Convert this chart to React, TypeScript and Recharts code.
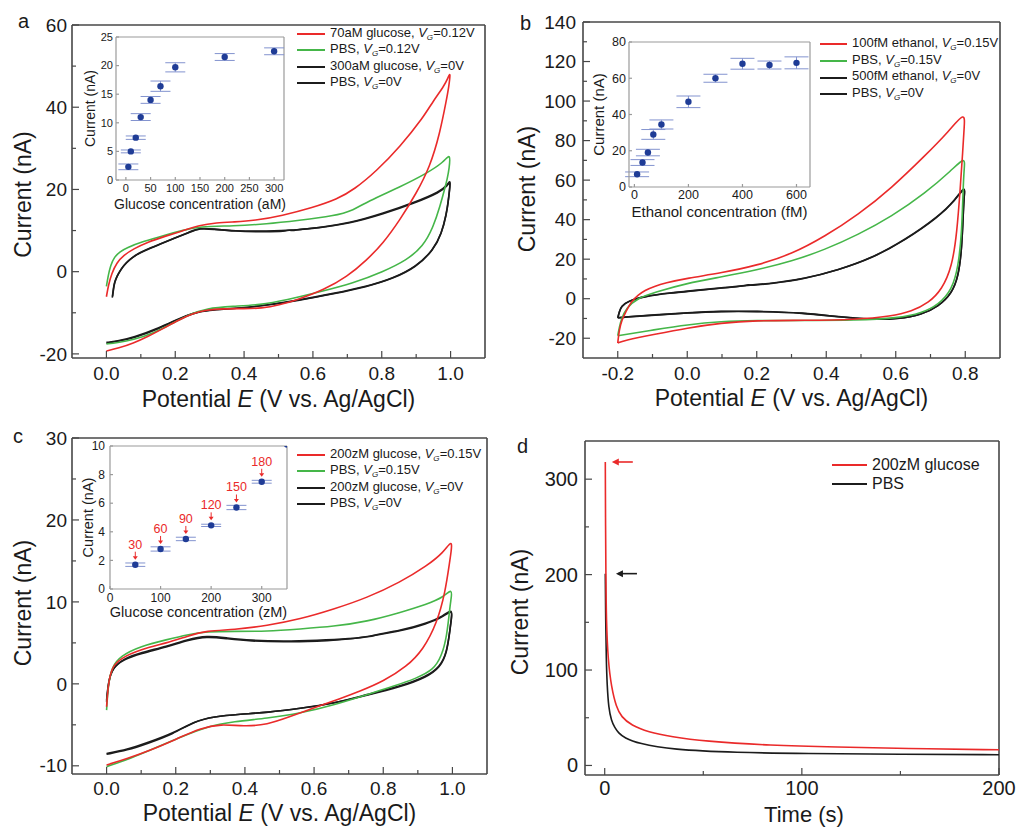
import React from 'react';
import {
  ComposedChart, ScatterChart, Line, Scatter, XAxis, YAxis,
  ReferenceLine, Legend, ErrorBar,
} from 'recharts';

const FONT = 'Arial, "Liberation Sans", Helvetica, sans-serif';
const RED = '#ea2a2a';
const GREEN = '#45b649';
const BLACK = '#1c1c1c';
const AXIS = '#474747';
const TXT = '#1a1a1a';
const DOT = '#1f3c96';
const ERR = '#8393cf';
const INSET_AXIS = '#9a9a9a';

type P = [number, number];

// ---------- Panel a : CV, glucose (aM) ----------
const aRed: P[] = [[0.0,-6.1],[0.006,-3.2],[0.015,-0.5],[0.03,2.2],[0.05,4.0],[0.08,5.6],[0.12,7.2],[0.17,8.6],[0.22,9.9],[0.27,11.3],[0.32,11.9],[0.37,12.1],[0.43,12.4],[0.51,13.6],[0.6,15.6],[0.67,17.6],[0.72,20.0],[0.785,24.5],[0.853,30.4],[0.92,37.4],[0.95,41.6],[0.98,45.0],[0.993,47.2],[1.0,48.7],[0.995,45.0],[0.988,41.8],[0.969,33.7],[0.94,25.5],[0.9,19.0],[0.853,12.6],[0.804,6.9],[0.756,2.8],[0.7,-1.2],[0.63,-4.5],[0.562,-6.6],[0.5,-8.2],[0.45,-8.9],[0.4,-9.0],[0.34,-9.0],[0.29,-9.3],[0.25,-10.2],[0.21,-11.8],[0.17,-13.6],[0.12,-15.8],[0.078,-17.4],[0.035,-18.6],[0.0,-19.3]];
const aGreen: P[] = [[0.0,-3.6],[0.005,-1.0],[0.012,1.5],[0.023,3.6],[0.04,4.9],[0.058,5.8],[0.105,7.3],[0.17,8.9],[0.22,10.0],[0.27,11.0],[0.37,11.1],[0.465,11.6],[0.56,12.5],[0.66,13.5],[0.72,15.0],[0.756,17.0],[0.853,20.6],[0.93,23.9],[0.98,26.6],[1.0,29.0],[0.996,25.0],[0.99,22.5],[0.984,20.5],[0.969,15.8],[0.95,10.9],[0.92,6.1],[0.872,2.8],[0.804,0.0],[0.717,-2.8],[0.62,-4.9],[0.523,-6.9],[0.446,-8.1],[0.368,-8.4],[0.29,-8.9],[0.242,-10.4],[0.194,-12.5],[0.136,-15.0],[0.078,-16.6],[0.03,-17.3],[0.0,-17.6]];
const aBlack1: P[] = [[0.017,-6.3],[0.02,-4.2],[0.023,-2.7],[0.03,-1.2],[0.038,0.0],[0.05,1.5],[0.067,2.9],[0.085,4.0],[0.105,4.9],[0.154,6.6],[0.2,8.2],[0.24,9.6],[0.271,10.7],[0.31,10.4],[0.37,9.8],[0.465,9.7],[0.52,9.8],[0.53,10.2],[0.545,9.9],[0.56,10.3],[0.61,10.6],[0.707,11.8],[0.804,14.2],[0.9,17.0],[0.969,19.5],[0.99,21.0],[1.0,22.5],[0.997,20.0],[0.993,17.0],[0.988,14.2],[0.974,9.3],[0.95,5.3],[0.9,1.2],[0.833,-1.6],[0.756,-3.6],[0.66,-5.3],[0.56,-6.9],[0.465,-8.1],[0.388,-8.9],[0.29,-9.4],[0.25,-10.2],[0.213,-11.4],[0.155,-13.8],[0.078,-16.2],[0.03,-17.0],[0.0,-17.4]];
const aBlack2: P[] = [[0.018,-6.0],[0.021,-4.0],[0.024,-2.6],[0.031,-1.1],[0.039,0.1],[0.051,1.6],[0.068,3.0],[0.086,4.1],[0.106,5.0],[0.155,6.7],[0.2,8.2],[0.24,9.5],[0.272,10.6],[0.31,10.3],[0.37,9.9],[0.465,9.8],[0.56,10.2],[0.61,10.6],[0.707,11.7],[0.804,14.0],[0.9,16.8],[0.969,19.3],[0.99,20.8],[1.0,22.2],[0.997,19.8],[0.993,16.8],[0.988,14.0],[0.974,9.2],[0.95,5.2],[0.9,1.1],[0.833,-1.7],[0.756,-3.7],[0.66,-5.4],[0.56,-7.0],[0.465,-8.2],[0.388,-8.9],[0.29,-9.3],[0.25,-10.1],[0.213,-11.3],[0.155,-13.6],[0.078,-16.0],[0.03,-16.9],[0.0,-17.2]];
const legendA = [
  { text: '70aM glucose', vg: '0.12V' },
  { text: 'PBS', vg: '0.12V' },
  { text: '300aM glucose', vg: '0V' },
  { text: 'PBS', vg: '0V' },
];
const insetAConc = [5, 10, 20, 30, 50, 70, 100, 200, 300];
const insetACurrent = [2.3, 5.0, 7.4, 11.0, 14.0, 16.4, 19.7, 21.5, 22.5];
const insetAErr = [0.5, 0.25, 0.3, 0.6, 0.6, 0.9, 0.8, 0.6, 0.6];

// ---------- Panel b : CV, ethanol (fM) ----------
const bRed: P[] = [[-0.2,-22.4],[-0.196,-16.0],[-0.188,-10.5],[-0.176,-6.5],[-0.162,-1.5],[-0.14,2.0],[-0.123,4.2],[-0.094,6.3],[-0.065,7.9],[0.0,10.4],[0.098,13.0],[0.204,17.0],[0.3,22.5],[0.396,31.5],[0.492,42.5],[0.588,56.0],[0.685,72.5],[0.752,84.5],[0.8,95.0],[0.797,87.0],[0.793,75.0],[0.786,56.8],[0.776,33.2],[0.762,16.3],[0.733,4.6],[0.694,-2.2],[0.646,-6.4],[0.588,-8.9],[0.483,-10.6],[0.338,-11.0],[0.194,-11.0],[0.098,-12.3],[0.0,-14.8],[-0.094,-18.0],[-0.18,-21.0],[-0.2,-22.4]];
const bGreen: P[] = [[-0.2,-18.7],[-0.195,-14.0],[-0.19,-10.6],[-0.176,-4.7],[-0.142,0.3],[-0.094,3.2],[0.0,7.9],[0.098,11.0],[0.204,14.7],[0.3,18.9],[0.396,24.8],[0.492,32.4],[0.588,41.6],[0.685,53.4],[0.762,65.2],[0.8,72.0],[0.797,66.0],[0.794,56.8],[0.79,33.2],[0.78,16.3],[0.762,4.6],[0.723,-3.0],[0.675,-7.2],[0.608,-9.8],[0.483,-11.0],[0.338,-11.0],[0.194,-11.0],[0.098,-11.5],[0.0,-13.1],[-0.094,-15.7],[-0.2,-18.7]];
const bBlack1: P[] = [[-0.2,-9.8],[-0.195,-6.5],[-0.19,-3.9],[-0.171,-1.3],[-0.123,1.2],[-0.046,2.9],[0.0,3.7],[0.098,5.4],[0.17,6.5],[0.175,7.3],[0.18,6.6],[0.242,7.6],[0.338,10.0],[0.435,14.5],[0.531,20.5],[0.627,29.8],[0.723,41.6],[0.771,50.0],[0.8,57.6],[0.797,52.0],[0.795,46.7],[0.79,24.8],[0.78,11.3],[0.762,2.9],[0.723,-3.9],[0.675,-8.1],[0.608,-10.3],[0.531,-10.6],[0.435,-9.3],[0.338,-7.2],[0.194,-6.4],[0.098,-6.4],[0.0,-7.2],[-0.094,-8.3],[-0.18,-9.3],[-0.2,-9.8]];
const bBlack2: P[] = [[-0.2,-9.6],[-0.195,-6.3],[-0.19,-3.8],[-0.171,-1.2],[-0.123,1.3],[-0.046,3.0],[0.0,3.8],[0.098,5.5],[0.242,7.7],[0.338,10.1],[0.435,14.6],[0.531,20.4],[0.627,29.6],[0.723,41.3],[0.771,49.7],[0.8,57.2],[0.797,51.8],[0.795,46.5],[0.79,24.6],[0.78,11.2],[0.762,2.8],[0.723,-3.9],[0.675,-8.0],[0.608,-10.2],[0.531,-10.5],[0.435,-9.2],[0.338,-7.1],[0.194,-6.3],[0.098,-6.3],[0.0,-7.1],[-0.094,-8.2],[-0.18,-9.2],[-0.2,-9.6]];
const legendB = [
  { text: '100fM ethanol', vg: '0.15V' },
  { text: 'PBS', vg: '0.15V' },
  { text: '500fM ethanol', vg: '0V' },
  { text: 'PBS', vg: '0V' },
];
const insetBConc = [10, 30, 50, 70, 100, 200, 300, 400, 500, 600];
const insetBCurrent = [7, 13.5, 19, 29, 34.5, 47, 60, 68, 67.3, 68.5];
const insetBErr = [1.3, 1.6, 1.8, 2.7, 2.5, 3.2, 2.2, 3.0, 2.2, 3.3];

// ---------- Panel c : CV, glucose (zM) ----------
const cRed: P[] = [[0.0,-2.8],[0.005,0.1],[0.016,2.1],[0.04,3.1],[0.098,4.2],[0.175,5.0],[0.233,5.8],[0.29,6.5],[0.368,6.6],[0.464,7.1],[0.56,7.9],[0.656,9.1],[0.753,10.5],[0.849,12.4],[0.926,14.4],[0.974,16.0],[1.0,17.7],[0.996,16.0],[0.993,15.2],[0.979,11.1],[0.955,7.4],[0.916,4.2],[0.868,2.1],[0.8,0.3],[0.733,-0.9],[0.676,-1.8],[0.608,-2.8],[0.531,-4.0],[0.464,-5.0],[0.397,-5.2],[0.33,-4.9],[0.271,-5.4],[0.204,-6.7],[0.127,-8.1],[0.06,-9.1],[0.0,-9.9]];
const cGreen: P[] = [[0.0,-3.2],[0.005,0.1],[0.016,2.1],[0.04,3.4],[0.098,4.6],[0.175,5.4],[0.233,6.0],[0.29,6.4],[0.368,6.4],[0.464,6.4],[0.56,6.7],[0.656,7.0],[0.753,7.6],[0.849,8.7],[0.926,9.7],[0.975,10.6],[1.0,11.7],[0.996,10.3],[0.993,9.5],[0.984,5.8],[0.969,3.4],[0.945,1.7],[0.897,0.7],[0.83,-0.3],[0.753,-1.3],[0.656,-2.6],[0.56,-3.6],[0.464,-4.2],[0.368,-4.6],[0.29,-5.2],[0.214,-6.5],[0.137,-7.9],[0.069,-9.1],[0.0,-10.1]];
const cBlack1: P[] = [[0.0,-2.2],[0.005,0.1],[0.016,1.9],[0.05,3.1],[0.098,3.8],[0.175,4.6],[0.233,5.4],[0.29,5.9],[0.348,5.6],[0.416,5.3],[0.512,5.2],[0.608,5.3],[0.705,5.5],[0.77,5.8],[0.775,6.0],[0.849,6.5],[0.926,7.4],[0.975,8.3],[1.0,9.2],[0.997,8.0],[0.994,7.0],[0.984,3.8],[0.964,2.1],[0.926,0.9],[0.849,-0.3],[0.753,-1.3],[0.656,-2.4],[0.56,-3.0],[0.464,-3.5],[0.387,-3.7],[0.31,-4.0],[0.252,-4.6],[0.194,-6.1],[0.117,-7.3],[0.06,-8.1],[0.0,-8.6]];
const cBlack2: P[] = [[0.0,-2.0],[0.005,0.2],[0.016,1.9],[0.05,3.0],[0.098,3.7],[0.175,4.5],[0.233,5.3],[0.29,5.8],[0.348,5.5],[0.416,5.2],[0.512,5.1],[0.608,5.2],[0.705,5.4],[0.849,6.4],[0.926,7.3],[0.975,8.2],[1.0,9.1],[0.997,7.9],[0.994,6.9],[0.984,3.7],[0.964,2.0],[0.926,0.8],[0.849,-0.4],[0.753,-1.4],[0.656,-2.4],[0.56,-3.0],[0.464,-3.5],[0.387,-3.7],[0.31,-4.0],[0.252,-4.6],[0.194,-6.0],[0.117,-7.2],[0.06,-8.0],[0.0,-8.5]];
const legendC = [
  { text: '200zM glucose', vg: '0.15V' },
  { text: 'PBS', vg: '0.15V' },
  { text: '200zM glucose', vg: '0V' },
  { text: 'PBS', vg: '0V' },
];
const insetCConc = [50, 100, 150, 200, 250, 300];
const insetCCurrent = [1.7, 2.8, 3.5, 4.45, 5.7, 7.5];
const insetCErr = [0.12, 0.15, 0.12, 0.08, 0.15, 0.1];
const insetCLabels = ['30', '60', '90', '120', '150', '180'];
const insetCEdgeConc = [350];
const insetCEdgeCurrent = [10.1];

// ---------- Panel d : amperometric response ----------
const dRed: P[] = [[0.3,318],[0.4,260],[0.6,200],[0.8,152],[1.7,110],[3.4,82],[5.9,61],[8.4,51],[13.5,42],[22,35],[34,30],[50,25.5],[84,21],[118,19.2],[152,17.8],[200,16.4]];
const dBlack: P[] = [[0.3,201],[0.5,150],[0.8,110],[1.2,85],[2,60],[3.4,47],[5,40],[7,34],[10,29],[17,23],[34,16.5],[67,13.5],[101,12.5],[150,11.8],[200,11.2]];
const legendD = ['200zM glucose', 'PBS'];
const arrowDTime = [3.6, 5.7];
const arrowDCurrent = [318, 201];

// ---------- helpers ----------
const toPts = (arr: P[]) => arr.map(([x, y]) => ({ x, y }));

const tickFactory = (
  side: 'bottom' | 'left', majors: number[], gap: number, fs: number,
  fmt: (v: number) => string, majorLen: number, minorLen: number, stroke: string, fill: string,
) => (props: any) => {
  const { x, y, payload } = props;
  const v = Number(payload && payload.value);
  const isMajor = majors.some((t) => Math.abs(t - v) < 1e-6);
  const len = isMajor ? majorLen : minorLen;
  if (side === 'bottom') {
    const ay = y - gap;
    return (
      <g>
        <line x1={x} x2={x} y1={ay} y2={ay - len} stroke={stroke} strokeWidth={1.2} />
        {isMajor ? (
          <text x={x} y={y} dy="0.71em" textAnchor="middle" fontSize={fs} fontFamily={FONT} fill={fill}>{fmt(v)}</text>
        ) : null}
      </g>
    );
  }
  const ax = x + gap;
  return (
    <g>
      <line x1={ax} x2={ax + len} y1={y} y2={y} stroke={stroke} strokeWidth={1.2} />
      {isMajor ? (
        <text x={x} y={y} dy="0.35em" textAnchor="end" fontSize={fs} fontFamily={FONT} fill={fill}>{fmt(v)}</text>
      ) : null}
    </g>
  );
};

const xTitle = (dx: number, dy: number, fs: number, content: React.ReactNode) => (p: any) => {
  const vb = p.viewBox || { x: 0, y: 0, width: 0, height: 0 };
  return (
    <text x={vb.x + vb.width / 2 + dx} y={vb.y + dy} textAnchor="middle" fontSize={fs}
      fontFamily={FONT} fill={TXT} style={{ whiteSpace: 'pre' }}>{content}</text>
  );
};

const yTitle = (bx: number, dy: number, fs: number, content: React.ReactNode) => (p: any) => {
  const vb = p.viewBox || { x: 0, y: 0, width: 0, height: 0 };
  const x = vb.x + bx;
  const y = vb.y + vb.height / 2 + dy;
  return (
    <text x={x} y={y} transform={`rotate(-90 ${x} ${y})`} textAnchor="middle" fontSize={fs}
      fontFamily={FONT} fill={TXT} style={{ whiteSpace: 'pre' }}>{content}</text>
  );
};

const potentialTitle = (
  <>
    <tspan>Potential </tspan>
    <tspan fontStyle="italic">E</tspan>
    <tspan> (V vs. Ag/AgCl)</tspan>
  </>
);

type LegItem = { text: string; vg?: string; color: string };

const LegendBlock = ({ items, fs, rowH, lineW }: { items: LegItem[]; fs: number; rowH: number; lineW: number }) => (
  <div style={{ fontFamily: FONT, fontSize: fs, color: TXT, whiteSpace: 'nowrap' }}>
    {items.map((it, i) => (
      <div key={i} style={{ display: 'flex', alignItems: 'center', height: rowH }}>
        <div style={{ width: lineW, height: 0, borderTop: `2px solid ${it.color}`, marginRight: 5 }} />
        <span style={{ lineHeight: `${rowH}px` }}>
          {it.text}
          {it.vg ? (
            <>
              {', '}
              <i>V</i>
              <i style={{ fontSize: fs * 0.62, position: 'relative', top: 3 }}>G</i>
              {'=' + it.vg}
            </>
          ) : null}
        </span>
      </div>
    ))}
  </div>
);

type Series = { data: P[]; color: string; name: string };

type MainProps = {
  width: number; height: number; margin: { top: number; right: number; left: number; bottom: number };
  xDomain: [number, number]; yDomain: [number, number];
  xTicks: number[]; xMajors: number[]; yTicks: number[]; yMajors: number[];
  xFmt: (v: number) => string; yFmt: (v: number) => string;
  yAxisWidth: number; xAxisHeight: number; tickFs: number; xGap: number; yGap: number;
  series: Series[];
  xLabel: (p: any) => React.ReactElement; yLabel: (p: any) => React.ReactElement;
  legendItems: LegItem[]; legendPos: { left: number; top: number }; legendFs: number; legendRowH: number; legendLineW: number;
  extra?: React.ReactElement | null;
};

const MainChart = (p: MainProps) => (
  <ComposedChart width={p.width} height={p.height} margin={p.margin}>
    <XAxis type="number" dataKey="x" domain={p.xDomain} allowDataOverflow ticks={p.xTicks} interval={0}
      height={p.xAxisHeight} tickSize={0} tickMargin={p.xGap} tickLine={false}
      axisLine={{ stroke: AXIS, strokeWidth: 1.6 }}
      tick={tickFactory('bottom', p.xMajors, p.xGap, p.tickFs, p.xFmt, 7, 4, AXIS, TXT)}
      label={p.xLabel} />
    <YAxis type="number" dataKey="y" domain={p.yDomain} allowDataOverflow ticks={p.yTicks} interval={0}
      width={p.yAxisWidth} tickSize={0} tickMargin={p.yGap} tickLine={false}
      axisLine={{ stroke: AXIS, strokeWidth: 1.6 }}
      tick={tickFactory('left', p.yMajors, p.yGap, p.tickFs, p.yFmt, 7, 4, AXIS, TXT)}
      label={p.yLabel} />
    <ReferenceLine x={p.xDomain[1]} stroke={AXIS} strokeWidth={1.6} ifOverflow="visible" />
    <ReferenceLine y={p.yDomain[1]} stroke={AXIS} strokeWidth={1.6} ifOverflow="visible" />
    {p.series.map((s, i) => (
      <Line key={i} name={s.name} data={toPts(s.data)} dataKey="y" type="basis" stroke={s.color}
        strokeWidth={1.6} dot={false} activeDot={false} isAnimationActive={false} />
    ))}
    {p.extra ? p.extra : null}
    <Legend layout="vertical" align="center" verticalAlign="middle"
      wrapperStyle={{ left: p.legendPos.left, top: p.legendPos.top, width: 'auto', height: 'auto' }}
      content={() => <LegendBlock items={p.legendItems} fs={p.legendFs} rowH={p.legendRowH} lineW={p.legendLineW} />} />
  </ComposedChart>
);

type InsetProps = {
  left: number; top: number; width: number; height: number;
  yAxisWidth: number; xAxisHeight: number;
  xDomain: [number, number]; yDomain: [number, number];
  xTicks: number[]; yTicks: number[];
  conc: number[]; current: number[]; err: number[]; labels?: string[];
  errW: number; tickFs: number; titleFs: number; xGap: number; yGap: number;
  xTitleText: string; xTitleDy: number; yTitleBx: number;
  edgeConc?: number[]; edgeCurrent?: number[];
};

const LabeledDot = (props: any) => {
  const { cx, cy, payload } = props;
  if (cx == null || cy == null) return <g />;
  return (
    <g>
      <circle cx={cx} cy={cy} r={3.2} fill={DOT} />
      {payload && payload.label ? (
        <g>
          <text x={cx} y={cy - 16} textAnchor="middle" fontSize={12.5} fontFamily={FONT} fill={RED}>{payload.label}</text>
          <line x1={cx} x2={cx} y1={cy - 13} y2={cy - 8} stroke={RED} strokeWidth={1} />
          <path d={`M${cx - 2.5},${cy - 8.5} L${cx + 2.5},${cy - 8.5} L${cx},${cy - 5} Z`} fill={RED} />
        </g>
      ) : null}
    </g>
  );
};

const Inset = (p: InsetProps) => {
  const data = p.conc.map((c, i) => ({ x: c, y: p.current[i], err: p.err[i], label: p.labels ? p.labels[i] : '' }));
  const edge = (p.edgeConc || []).map((c, i) => ({ x: c, y: (p.edgeCurrent || [])[i] }));
  return (
    <div style={{ position: 'absolute', left: p.left, top: p.top }}>
      <ScatterChart width={p.width} height={p.height} margin={{ top: 6, right: 6, left: 0, bottom: 0 }}>
        <XAxis type="number" dataKey="x" domain={p.xDomain} allowDataOverflow ticks={p.xTicks} interval={0}
          height={p.xAxisHeight} tickSize={0} tickMargin={p.xGap} tickLine={false}
          axisLine={{ stroke: INSET_AXIS, strokeWidth: 1.2 }}
          tick={tickFactory('bottom', p.xTicks, p.xGap, p.tickFs, (v) => String(v), 3, 0, INSET_AXIS, TXT)}
          label={xTitle(0, p.xTitleDy, p.titleFs, p.xTitleText)} />
        <YAxis type="number" dataKey="y" domain={p.yDomain} allowDataOverflow ticks={p.yTicks} interval={0}
          width={p.yAxisWidth} tickSize={0} tickMargin={p.yGap} tickLine={false}
          axisLine={{ stroke: INSET_AXIS, strokeWidth: 1.2 }}
          tick={tickFactory('left', p.yTicks, p.yGap, p.tickFs, (v) => String(v), 3, 0, INSET_AXIS, TXT)}
          label={yTitle(p.yTitleBx, 0, p.titleFs, 'Current (nA)')} />
        <ReferenceLine x={p.xDomain[1]} stroke={INSET_AXIS} strokeWidth={1.2} ifOverflow="visible" />
        <ReferenceLine y={p.yDomain[1]} stroke={INSET_AXIS} strokeWidth={1.2} ifOverflow="visible" />
        <Scatter data={data} dataKey="y" isAnimationActive={false} shape={(sp: any) => <LabeledDot {...sp} />}>
          <ErrorBar dataKey="err" direction="y" width={p.errW} stroke={ERR} strokeWidth={1} />
        </Scatter>
        {edge.length ? (
          <Scatter data={edge} dataKey="y" isAnimationActive={false} shape={(sp: any) => <LabeledDot {...sp} />} />
        ) : null}
      </ScatterChart>
    </div>
  );
};

const ArrowMark = (props: any) => {
  const { cx, cy, index } = props;
  if (cx == null || cy == null) return <g />;
  const color = index === 0 ? RED : BLACK;
  return (
    <g>
      <line x1={cx + 2} x2={cx + 21} y1={cy} y2={cy} stroke={color} strokeWidth={1.6} />
      <path d={`M${cx},${cy} L${cx + 7},${cy - 3.5} L${cx + 7},${cy + 3.5} Z`} fill={color} />
    </g>
  );
};

const PanelLetter = ({ left, top, text }: { left: number; top: number; text: string }) => (
  <div style={{ position: 'absolute', left, top, fontFamily: FONT, fontSize: 20, lineHeight: 1, color: TXT }}>{text}</div>
);

const f1 = (v: number) => v.toFixed(1);
const f0 = (v: number) => String(Math.round(v));

export default function App() {
  const aSeries: Series[] = [
    { data: aBlack2, color: BLACK, name: 'PBS, VG=0V' },
    { data: aBlack1, color: BLACK, name: '300aM glucose, VG=0V' },
    { data: aGreen, color: GREEN, name: 'PBS, VG=0.12V' },
    { data: aRed, color: RED, name: '70aM glucose, VG=0.12V' },
  ];
  const bSeries: Series[] = [
    { data: bBlack2, color: BLACK, name: 'PBS, VG=0V' },
    { data: bBlack1, color: BLACK, name: '500fM ethanol, VG=0V' },
    { data: bGreen, color: GREEN, name: 'PBS, VG=0.15V' },
    { data: bRed, color: RED, name: '100fM ethanol, VG=0.15V' },
  ];
  const cSeries: Series[] = [
    { data: cBlack2, color: BLACK, name: 'PBS, VG=0V' },
    { data: cBlack1, color: BLACK, name: '200zM glucose, VG=0V' },
    { data: cGreen, color: GREEN, name: 'PBS, VG=0.15V' },
    { data: cRed, color: RED, name: '200zM glucose, VG=0.15V' },
  ];
  const dSeries: Series[] = [
    { data: dBlack, color: BLACK, name: 'PBS' },
    { data: dRed, color: RED, name: '200zM glucose' },
  ];
  const legColors = [RED, GREEN, BLACK, BLACK];
  const arrowData = arrowDTime.map((t, i) => ({ x: t, y: arrowDCurrent[i] }));

  const cvX = [0, 0.1, 0.2, 0.3, 0.4, 0.5, 0.6, 0.7, 0.8, 0.9, 1.0];
  const cvXMaj = [0, 0.2, 0.4, 0.6, 0.8, 1.0];

  return (
    <div style={{ position: 'absolute', left: 0, top: 0, width: 1019, height: 828, background: '#fff', overflow: 'hidden' }}>
      {/* Panel a */}
      <div style={{ position: 'absolute', left: 0, top: 0 }}>
        <MainChart width={510} height={420} margin={{ top: 25, right: 25, left: 0, bottom: 0 }}
          xDomain={[-0.1, 1.1]} yDomain={[-21, 60]}
          xTicks={cvX} xMajors={cvXMaj}
          yTicks={[-20, -10, 0, 10, 20, 30, 40, 50, 60]} yMajors={[-20, 0, 20, 40, 60]}
          xFmt={f1} yFmt={f0} yAxisWidth={72} xAxisHeight={62} tickFs={19} xGap={9} yGap={5}
          series={aSeries}
          xLabel={xTitle(0, 49, 23, potentialTitle)} yLabel={yTitle(31, 3, 23, 'Current (nA)')}
          legendItems={legendA.map((l, i) => ({ ...l, color: legColors[i] }))}
          legendPos={{ left: 297, top: 26 }} legendFs={13} legendRowH={16.3} legendLineW={28} />
        <Inset left={74} top={31} width={216} height={185} yAxisWidth={42} xAxisHeight={36}
          xDomain={[-20, 320]} yDomain={[0, 25]}
          xTicks={[0, 50, 100, 150, 200, 250, 300]} yTicks={[0, 5, 10, 15, 20, 25]}
          conc={insetAConc} current={insetACurrent} err={insetAErr}
          errW={10} tickFs={11} titleFs={14} xGap={4} yGap={3}
          xTitleText="Glucose concentration (aM)" xTitleDy={29} yTitleBx={21} />
        <PanelLetter left={18} top={11} text="a" />
      </div>

      {/* Panel b */}
      <div style={{ position: 'absolute', left: 505, top: 0 }}>
        <MainChart width={514} height={420} margin={{ top: 22, right: 19, left: 0, bottom: 0 }}
          xDomain={[-0.3, 0.9]} yDomain={[-30, 140]}
          xTicks={[-0.2, -0.1, 0, 0.1, 0.2, 0.3, 0.4, 0.5, 0.6, 0.7, 0.8]} xMajors={[-0.2, 0, 0.2, 0.4, 0.6, 0.8]}
          yTicks={[-20, -10, 0, 10, 20, 30, 40, 50, 60, 70, 80, 90, 100, 110, 120, 130, 140]}
          yMajors={[-20, 0, 20, 40, 60, 80, 100, 120, 140]}
          xFmt={f1} yFmt={f0} yAxisWidth={78} xAxisHeight={62} tickFs={19} xGap={9} yGap={7}
          series={bSeries}
          xLabel={xTitle(0, 48, 23, potentialTitle)} yLabel={yTitle(30, -1, 23, 'Current (nA)')}
          legendItems={legendB.map((l, i) => ({ ...l, color: legColors[i] }))}
          legendPos={{ left: 315, top: 36 }} legendFs={13} legendRowH={16.7} legendLineW={27} />
        <Inset left={80} top={36} width={231} height={190} yAxisWidth={44} xAxisHeight={39}
          xDomain={[-20, 650]} yDomain={[0, 80]}
          xTicks={[0, 200, 400, 600]} yTicks={[0, 20, 40, 60, 80]}
          conc={insetBConc} current={insetBCurrent} err={insetBErr}
          errW={12} tickFs={12.5} titleFs={15} xGap={3} yGap={3}
          xTitleText="Ethanol concentration (fM)" xTitleDy={30} yTitleBx={19} />
        <PanelLetter left={15} top={13} text="b" />
      </div>

      {/* Panel c */}
      <div style={{ position: 'absolute', left: 0, top: 420 }}>
        <MainChart width={510} height={408} margin={{ top: 18, right: 23, left: 0, bottom: 0 }}
          xDomain={[-0.1, 1.1]} yDomain={[-11, 30]}
          xTicks={cvX} xMajors={cvXMaj}
          yTicks={[-10, -5, 0, 5, 10, 15, 20, 25, 30]} yMajors={[-10, 0, 10, 20, 30]}
          xFmt={f1} yFmt={f0} yAxisWidth={72} xAxisHeight={54} tickFs={19} xGap={8} yGap={5}
          series={cSeries}
          xLabel={xTitle(0, 47, 23, potentialTitle)} yLabel={yTitle(31, -3, 23, 'Current (nA)')}
          legendItems={legendC.map((l, i) => ({ ...l, color: legColors[i] }))}
          legendPos={{ left: 297, top: 27 }} legendFs={13} legendRowH={16.3} legendLineW={28} />
        <Inset left={68} top={20} width={225} height={182} yAxisWidth={42} xAxisHeight={33}
          xDomain={[0, 350]} yDomain={[0, 10]}
          xTicks={[0, 100, 200, 300]} yTicks={[0, 2, 4, 6, 8, 10]}
          conc={insetCConc} current={insetCCurrent} err={insetCErr} labels={insetCLabels}
          edgeConc={insetCEdgeConc} edgeCurrent={insetCEdgeCurrent}
          errW={10} tickFs={12} titleFs={14.5} xGap={4} yGap={5}
          xTitleText="Glucose concentration (zM)" xTitleDy={28} yTitleBx={25} />
        <PanelLetter left={13} top={6} text="c" />
      </div>

      {/* Panel d */}
      <div style={{ position: 'absolute', left: 505, top: 420 }}>
        <MainChart width={514} height={408} margin={{ top: 21, right: 20, left: 0, bottom: 0 }}
          xDomain={[-10, 200]} yDomain={[-10, 340]}
          xTicks={[0, 50, 100, 150, 200]} xMajors={[0, 100, 200]}
          yTicks={[0, 50, 100, 150, 200, 250, 300]} yMajors={[0, 100, 200, 300]}
          xFmt={f0} yFmt={f0} yAxisWidth={80} xAxisHeight={53} tickFs={20} xGap={6} yGap={7}
          series={dSeries}
          xLabel={xTitle(12, 47, 22, 'Time (s)')} yLabel={yTitle(23, 4, 23, 'Current (nA)')}
          legendItems={legendD.map((t, i) => ({ text: t, color: i === 0 ? RED : BLACK }))}
          legendPos={{ left: 327, top: 35 }} legendFs={16} legendRowH={19} legendLineW={35}
          extra={<Scatter data={arrowData} dataKey="y" isAnimationActive={false} shape={(sp: any) => <ArrowMark {...sp} />} />} />
        <PanelLetter left={12} top={16} text="d" />
      </div>
    </div>
  );
}
